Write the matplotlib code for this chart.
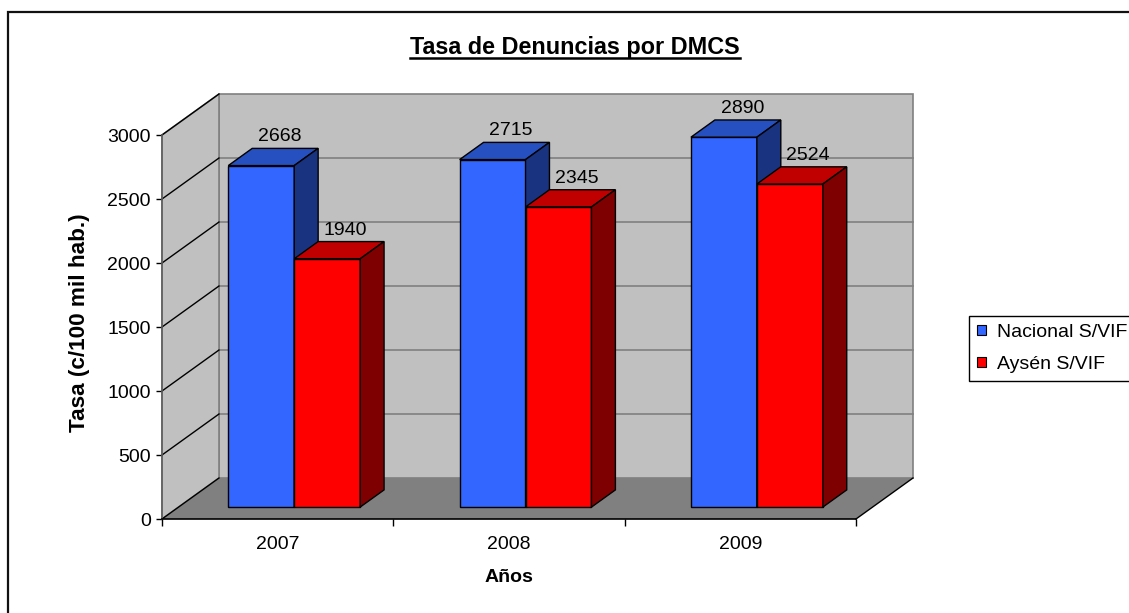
import matplotlib
matplotlib.use('Agg')
import matplotlib.pyplot as plt
from matplotlib.patches import Polygon, Rectangle, Patch
from matplotlib.lines import Line2D

# ---------------- data ----------------
years = ['2007', '2008', '2009']
nacional = [2668, 2715, 2890]
aysen = [1940, 2345, 2524]
series_names = ['Nacional S/VIF', 'Aysén S/VIF']
yticks = [0, 500, 1000, 1500, 2000, 2500, 3000]
title = 'Tasa de Denuncias por DMCS'
ylabel = 'Tasa (c/100 mil hab.)'
xlabel = 'Años'

plt.rcParams['font.family'] = ['Liberation Sans', 'DejaVu Sans']

W, H = 1129, 613
fig = plt.figure(figsize=(W / 100, H / 100), dpi=100)

# front plane of the plot area (pixels)
x0p, x1p, y0p, y1p = 162, 856, 519, 135
ax = fig.add_axes([x0p / W, 1 - y0p / H, (x1p - x0p) / W, (y0p - y1p) / H])
ymax = yticks[-1]
ncat = len(years)
ax.set_xlim(0, ncat)
ax.set_ylim(0, ymax)
ax.patch.set_visible(False)

# 3D depth vector (pixels) converted to data units
DXP, DYP = 57, 41
ddx = DXP * ncat / (x1p - x0p)
ddy = DYP * ymax / (y0p - y1p)


def P(x, y, d):
    return (x + d * ddx, y + d * ddy)


wall = '#c0c0c0'
gridc = '#808080'
# back wall
ax.add_patch(Polygon([P(0, 0, 1), P(ncat, 0, 1), P(ncat, ymax, 1), P(0, ymax, 1)],
                     closed=True, fc=wall, ec=gridc, lw=1.2, clip_on=False, zorder=1))
# left wall
ax.add_patch(Polygon([P(0, 0, 0), P(0, 0, 1), P(0, ymax, 1), P(0, ymax, 0)],
                     closed=True, fc=wall, ec=gridc, lw=1.2, clip_on=False, zorder=1))
# floor
ax.add_patch(Polygon([P(0, 0, 0), P(ncat, 0, 0), P(ncat, 0, 1), P(0, 0, 1)],
                     closed=True, fc='#808080', ec='none', clip_on=False, zorder=1))
# floor right edge (black)
ax.add_line(Line2D(*zip(P(ncat, 0, 0), P(ncat, 0, 1)), color='black', lw=1.0,
                   clip_on=False, zorder=2))

# gridlines
for v in yticks:
    if 0 < v < ymax:
        ax.add_line(Line2D(*zip(P(0, v, 1), P(ncat, v, 1)), color=gridc, lw=1.2,
                           clip_on=False, zorder=1.5))
    ax.add_line(Line2D(*zip(P(0, v, 0), P(0, v, 1)), color='black', lw=1.0,
                       clip_on=False, zorder=1.5))

# bars
bw = 0.285
d0, d1 = 0.29, 0.71
colors = [('#3366ff', '#2650c0', '#1a3380'), ('#ff0000', '#c00000', '#7f0000')]
for i in range(ncat):
    for j, vals in enumerate([nacional, aysen]):
        v = vals[i]
        xl = i + 0.5 - bw + j * bw
        xr = xl + bw
        front, top, side = colors[j]
        kw = dict(closed=True, ec='black', lw=1.0, clip_on=False, zorder=3)
        ax.add_patch(Polygon([P(xl, 0, d0), P(xr, 0, d0), P(xr, v, d0), P(xl, v, d0)], fc=front, **kw))
        ax.add_patch(Polygon([P(xl, v, d0), P(xr, v, d0), P(xr, v, d1), P(xl, v, d1)], fc=top, **kw))
        ax.add_patch(Polygon([P(xr, 0, d0), P(xr, 0, d1), P(xr, v, d1), P(xr, v, d0)], fc=side, **kw))
        ax.annotate(str(v), xy=P((xl + xr) / 2, v, 0.6), xytext=(0.5, 11.5),
                    textcoords='offset points', ha='center', va='center',
                    fontsize=14, zorder=4, annotation_clip=False)

# axes / ticks
for s in ['top', 'right']:
    ax.spines[s].set_visible(False)
ax.spines['left'].set_color('#606060')
ax.spines['left'].set_linewidth(1.2)
ax.spines['bottom'].set_color('black')
ax.spines['bottom'].set_linewidth(1.2)
ax.set_yticks(yticks)
ax.tick_params(axis='y', direction='out', length=4.5, width=1, pad=3.5, labelsize=14)
ax.set_xticks([i + 0.5 for i in range(ncat)], years)
ax.set_xticks(range(ncat + 1), minor=True)
ax.tick_params(axis='x', which='major', length=0, pad=12, labelsize=14)
ax.tick_params(axis='x', which='minor', length=5, width=1, direction='out')

ax.set_xlabel(xlabel, fontsize=14, fontweight='bold')
ax.xaxis.set_label_coords((509 - x0p) / (x1p - x0p), -(569 - y0p) / (y0p - y1p))
ax.set_ylabel(ylabel, fontsize=16.2, fontweight='bold')
ax.yaxis.set_label_coords(-(x0p - 90) / (x1p - x0p), 0.51)

# title with underline
t = fig.text(575 / W, 1 - 54 / H, title, ha='center', va='baseline',
             fontsize=16.8, fontweight='bold')
fig.canvas.draw()
bb = t.get_window_extent()
fig.add_artist(Line2D([bb.x0 / W, bb.x1 / W], [1 - 58 / H, 1 - 58 / H],
                      transform=fig.transFigure, color='black', lw=1.8))

# legend
handles = [Patch(fc=colors[0][0], ec='black', lw=0.8), Patch(fc=colors[1][0], ec='black', lw=0.8)]
leg = fig.legend(handles, series_names, loc='upper left',
                 bbox_to_anchor=(969 / W, 1 - 316 / H), bbox_transform=fig.transFigure,
                 fontsize=14, frameon=True, fancybox=False, edgecolor='black',
                 framealpha=1, borderaxespad=0, handlelength=0.45, handleheight=0.45,
                 handletextpad=0.55, labelspacing=0.76, borderpad=0.42)
leg.get_frame().set_linewidth(1.0)

# outer chart border
fig.add_artist(Rectangle((8 / W, -0.1), 1.2, 1.1 - 12 / H, transform=fig.transFigure,
                         fill=False, ec='#111111', lw=1.6))

fig.savefig('out.png', dpi=100)
